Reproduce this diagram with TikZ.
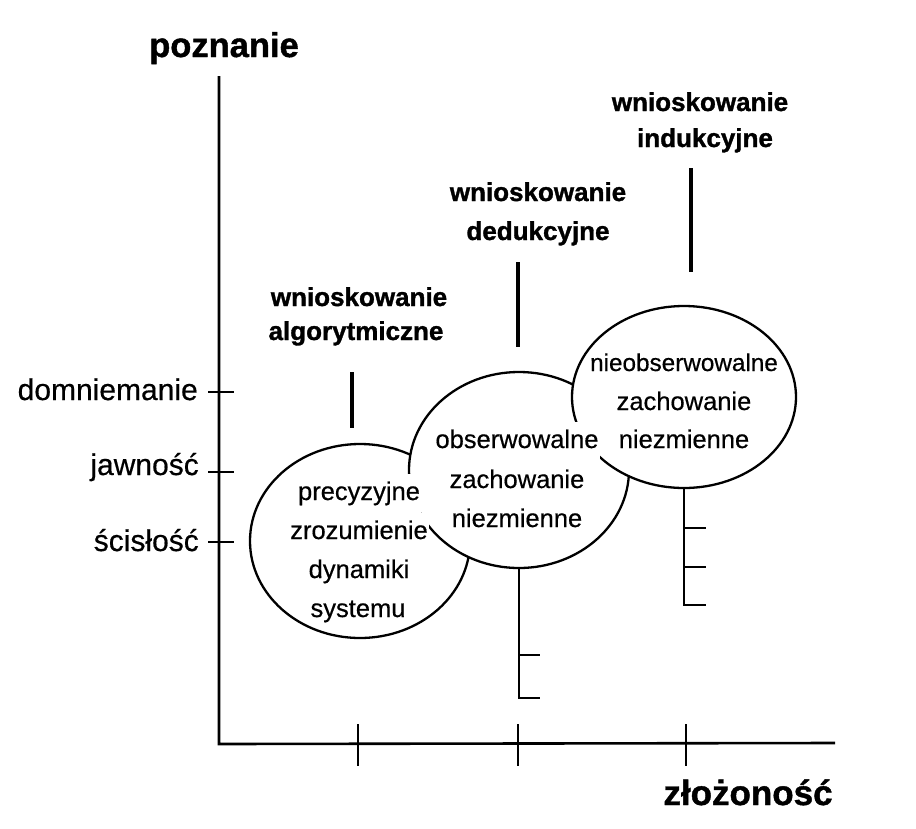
\documentclass[tikz,border=0pt]{standalone}
\usepackage{fontspec}
\setmainfont{Liberation Sans}[UprightFeatures={FakeBold=0.5},BoldFeatures={FakeBold=1.2}]
\usetikzlibrary{shapes.geometric}
\begin{document}
\begin{tikzpicture}[x=1pt,y=-1pt,
  axisline/.style={line width=2.6pt},
  tickline/.style={line width=2.2pt},
  bar/.style={line width=3.6pt},
  bubble/.style={ellipse, draw, fill=white, line width=2.3pt, inner sep=0pt},
  btext/.style={font=\fontsize{25.5}{30}\selectfont, anchor=base, inner xsep=1pt, inner ysep=0pt, text height=26pt, text depth=13pt},
  wbg/.style={fill=white},
  lbl/.style={font=\fontsize{26}{30}\selectfont\bfseries, anchor=base, inner sep=0pt},
  axlbl/.style={font=\fontsize{30}{34}\selectfont, anchor=base east, inner sep=0pt},
  title/.style={font=\fontsize{34.5}{40}\selectfont\bfseries, anchor=base, inner sep=0pt}]
\useasboundingbox[fill=white] (0,0) rectangle (916,828);

% axes
\coordinate (O) at (219,744);
\coordinate (Ytop) at (219,76);
\coordinate (Xend) at (835,743);
\draw[axisline] (Ytop) -- (O) -- (Xend);
\foreach \yy in {392,472,542} \draw[tickline] (208,\yy) -- (234,\yy);
\foreach \xx in {358,518,686} \draw[tickline] (\xx,724) -- (\xx,766);

\node[axlbl] (dom) at (198,400) {domniemanie};
\node[axlbl] (jaw) at (199,475) {jawność};
\node[axlbl] (sci) at (199,551) {ścisłość};
\node[title] (pozn) at (224,57) {poznanie};
\node[title, font=\fontsize{35}{40}\selectfont\bfseries] (zloz) at (748,805) {złożoność};

% bubbles
\node[bubble, minimum width=220pt, minimum height=194pt] (b1) at (360,541) {};
\node[bubble, minimum width=220pt, minimum height=196pt] (b2) at (519,470) {};
\node[bubble, minimum width=224pt, minimum height=182pt] (b3) at (684,397) {};

% bars above bubbles
\coordinate (a1) at (352,372); \coordinate (a2) at (352,428);
\coordinate (d1) at (518,262); \coordinate (d2) at (518,347);
\coordinate (i1) at (691,168); \coordinate (i2) at (691,272);
\draw[bar] (a1) -- (a2);
\draw[bar] (d1) -- (d2);
\draw[bar] (i1) -- (i2);

% stems below bubbles
\coordinate (s2a) at (519,655); \coordinate (s2b) at (519,698);
\draw[tickline] (b2.south) -- (s2b) -- ++(21,0);
\draw[tickline] (s2a) -- ++(21,0);
\coordinate (s3a) at (684,528); \coordinate (s3b) at (684,567); \coordinate (s3c) at (684,605);
\draw[tickline] (b3.south) -- (s3c) -- ++(22,0);
\draw[tickline] (s3a) -- ++(22,0);
\draw[tickline] (s3b) -- ++(22,0);

% bubble texts
\node[btext, wbg] (t11) at (359,500) {precyzyjne};
\node[btext, wbg] (t12) at (359,539) {zrozumienie};
\node[btext, wbg] (t13) at (359,578) {dynamiki};
\node[btext, wbg, text depth=6pt] (t14) at (358,617) {systemu};
\node[btext, wbg] (t21) at (517,448) {obserwowalne};
\node[btext, wbg] (t22) at (517,488) {zachowanie};
\node[btext, wbg] (t23) at (517,527) {niezmienne};
\node[btext, font=\fontsize{24.3}{30}\selectfont] (t31) at (684,371) {nieobserwowalne};
\node[btext] (t32) at (684,410) {zachowanie};
\node[btext] (t33) at (684,448) {niezmienne};

% bold labels
\node[lbl] (la1) at (359,306) {wnioskowanie};
\node[lbl] (la2) at (356,340) {algorytmiczne};
\node[lbl] (ld1) at (538,201) {wnioskowanie};
\node[lbl] (ld2) at (538,240) {dedukcyjne};
\node[lbl] (li1) at (700,111) {wnioskowanie};
\node[lbl] (li2) at (705,147) {indukcyjne};
\end{tikzpicture}
\end{document}
